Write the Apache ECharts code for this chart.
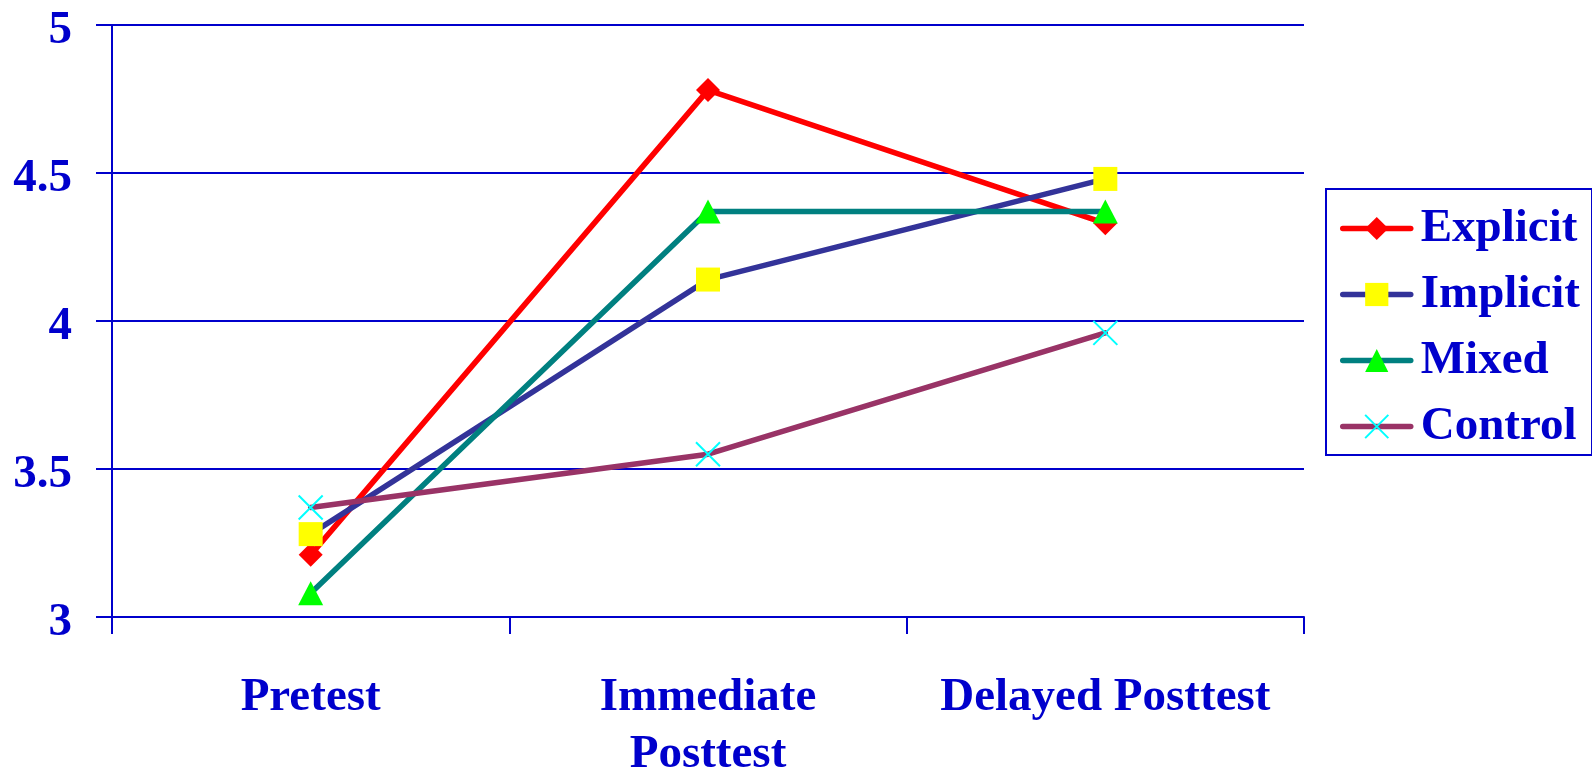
<!DOCTYPE html>
<html>
<head>
<meta charset="utf-8">
<script src="https://cdn.jsdelivr.net/npm/echarts@6/dist/echarts.min.js"></script>
<style>
  html, body { margin: 0; padding: 0; background: #fff; }
  #chart { width: 1592px; height: 773px; }
</style>
</head>
<body>
<div id="chart"></div>
<script>
// Mean scores per test occasion for each instruction group
const categories = ['Pretest', 'Immediate\nPosttest', 'Delayed Posttest'];
const explicitScores = [3.21, 4.78, 4.33];
const implicitScores = [3.28, 4.14, 4.48];
const mixedScores = [3.08, 4.37, 4.37];
const controlScores = [3.37, 3.55, 3.96];
const yTicks = { min: 3, max: 5, step: 0.5 };

const BLUE = '#0000CC';
const FONT = '"Liberation Serif", "Times New Roman", serif';
const FONT_SIZE = 47;

function makeSeries(name, data, lineColor, symbol, symbolSize, markerStyle) {
  return {
    name: name,
    type: 'line',
    data: data,
    symbol: symbol,
    symbolSize: symbolSize,
    showAllSymbol: true,
    animation: false,
    lineStyle: { color: lineColor, width: 5.5, cap: 'round', join: 'round' },
    itemStyle: markerStyle,
    emphasis: { disabled: true }
  };
}

const chart = echarts.init(document.getElementById('chart'), null, { renderer: 'canvas' });
chart.setOption({
  animation: false,
  backgroundColor: '#ffffff',
  grid: {
    left: 112, right: 288, top: 25, bottom: 156,
    containLabel: false,
    outerBoundsMode: 'none'
  },
  legend: {
    orient: 'vertical',
    left: 1326,
    top: 189,
    padding: [16, 12, 5, 14],
    itemGap: 19,
    itemWidth: 68,
    itemHeight: 29,
    borderColor: BLUE,
    borderWidth: 2,
    backgroundColor: '#ffffff',
    selectedMode: false,
    lineStyle: { width: 5.5, cap: 'round' },
    textStyle: {
      color: BLUE,
      fontFamily: FONT,
      fontWeight: 'bold',
      fontSize: FONT_SIZE,
      lineHeight: 47,
      padding: [0, 0, 0, 5]
    },
    data: ['Explicit', 'Implicit', 'Mixed', 'Control']
  },
  xAxis: {
    type: 'category',
    data: categories,
    boundaryGap: true,
    axisLine: { lineStyle: { color: BLUE, width: 2 } },
    axisTick: { show: true, inside: false, length: 17, alignWithLabel: false, lineStyle: { color: BLUE, width: 2 } },
    axisLabel: {
      color: BLUE,
      fontFamily: FONT,
      fontWeight: 'bold',
      fontSize: FONT_SIZE,
      lineHeight: 57,
      margin: 52,
      interval: 0
    },
    splitLine: { show: false }
  },
  yAxis: {
    type: 'value',
    min: yTicks.min,
    max: yTicks.max,
    interval: yTicks.step,
    axisLine: { show: true, lineStyle: { color: BLUE, width: 2 } },
    axisTick: { show: true, inside: false, length: 16, lineStyle: { color: BLUE, width: 2 } },
    axisLabel: {
      margin: 40,
      formatter: function (v) { return '{t|' + v + '}'; },
      rich: {
        t: {
          color: BLUE,
          fontFamily: FONT,
          fontWeight: 'bold',
          fontSize: FONT_SIZE,
          padding: [12, 0, 0, 0]
        }
      }
    },
    splitLine: { show: true, lineStyle: { color: BLUE, width: 2 } }
  },
  series: [
    makeSeries('Explicit', explicitScores, '#FF0000', 'diamond', [24, 24],
      { color: '#FF0000' }),
    makeSeries('Implicit', implicitScores, '#333399', 'rect', [24, 24],
      { color: '#FFFF00' }),
    makeSeries('Mixed', mixedScores, '#008080', 'triangle', [25, 24],
      { color: '#00FF00' }),
    makeSeries('Control', controlScores, '#993366', 'path://M0,0L10,10M10,0L0,10', [24, 24],
      { color: '#00FFFF', borderColor: '#00FFFF', borderWidth: 2 })
  ]
});
</script>
</body>
</html>
